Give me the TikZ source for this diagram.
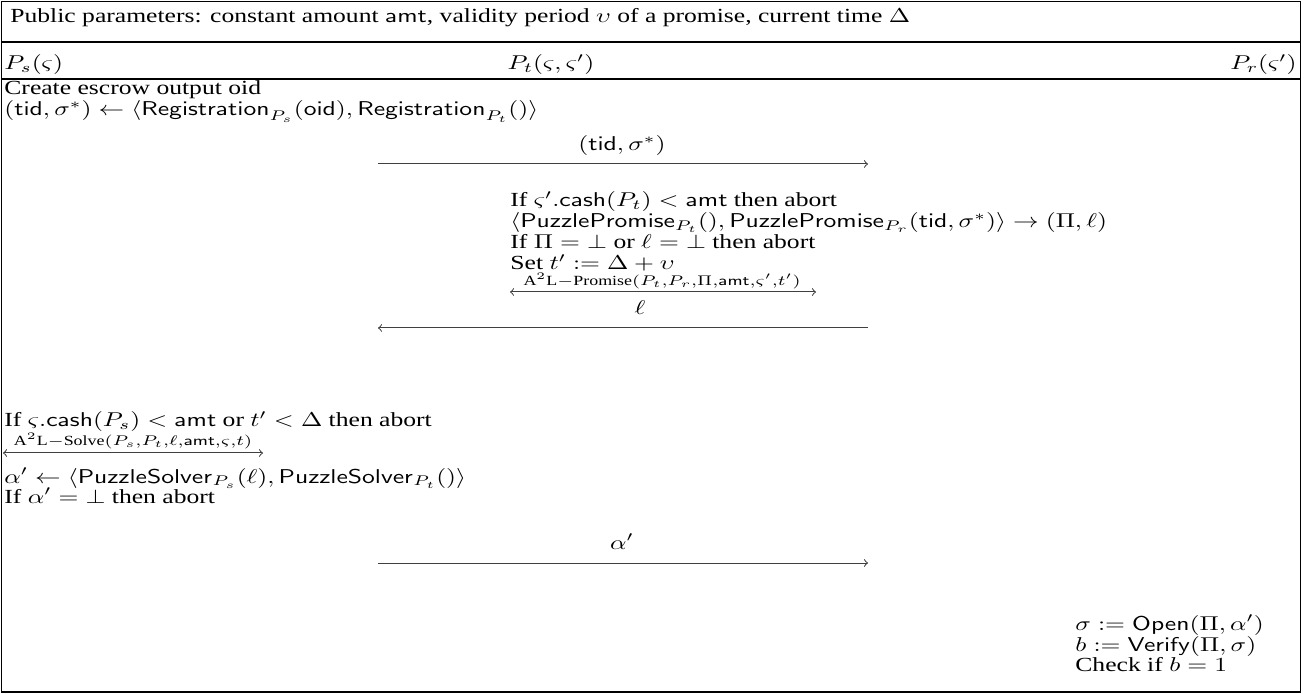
\documentclass[tikz,border=0pt]{standalone}
\usepackage{amsmath}
\usepackage[no-math]{fontspec}
\setmainfont{Liberation Serif}
\usepackage{graphicx}
\newcommand\hs[1]{\scalebox{1.28}[1]{#1}}
\tikzset{
  txt/.style={inner sep=0pt, anchor=base west},
  lbl/.style={inner sep=0pt, anchor=base},
  msg/.style={draw=black!75, line width=0.5pt, -to},
  dmsg/.style={draw=black!75, line width=0.5pt, to-to},
  rule/.style={draw=black, line width=0.6pt}
}
\begin{document}
\begin{tikzpicture}[x=0.5pt,y=-0.5pt]
\useasboundingbox (0,0) rectangle (1305,694);
\draw[rule] (1.5,1.5) rectangle (1300.5,692);
\node[txt] (hdr) at (10,23) {\hs{Public parameters: constant amount $\mathsf{amt}$, validity period $\upsilon$ of a promise, current time $\Delta$}};
\draw[rule] (1.5,42) -- (1300.5,42);
\node[txt] (ps) at (4,70) {\hs{$P_s(\varsigma)$}};
\node[lbl] (pt) at (551,70) {\hs{$P_t(\varsigma,\varsigma')$}};
\node[txt, anchor=base east] (pr) at (1297,70) {\hs{$P_r(\varsigma')$}};
\draw[rule] (1.5,79) -- (1300.5,79);
% sender block 1
\node[txt] (s1) at (4,95) {\hs{Create escrow output oid}};
\node[txt] (s2) at (4,116) {\hs{$(\mathsf{tid},\sigma^*)\leftarrow\langle\mathsf{Registration}_{P_s}(\mathsf{oid}),\mathsf{Registration}_{P_t}()\rangle$}};
% message 1
\coordinate (m1s) at (378,164);
\coordinate (m1e) at (868,164);
\node[lbl] (m1l) at (622,151) {\hs{$(\mathsf{tid},\sigma^*)$}};
\draw[msg] (m1s) -- (m1e);
% tumbler block
\node[txt] (t1) at (510,207) {\hs{If $\varsigma'.\mathsf{cash}(P_t)<\mathsf{amt}$ then abort}};
\node[txt] (t2) at (510,228) {\hs{$\langle\mathsf{PuzzlePromise}_{P_t}(),\mathsf{PuzzlePromise}_{P_r}(\mathsf{tid},\sigma^*)\rangle\rightarrow(\Pi,\ell)$}};
\node[txt] (t3) at (510,249) {\hs{If $\Pi=\bot$ or $\ell=\bot$ then abort}};
\node[txt] (t4) at (510,270) {\hs{Set $t':=\Delta+\upsilon$}};
\coordinate (d1s) at (510,292);
\coordinate (d1e) at (816,292);
\node[lbl] (d1l) at (662,286) {\hs{$\scriptstyle\text{A}^2\text{L}-\text{Promise}(P_t,P_r,\Pi,\mathsf{amt},\varsigma',t')$}};
\draw[dmsg] (d1s) -- (d1e);
\node[lbl] (m2l) at (640,315) {\hs{$\ell$}};
\coordinate (m2s) at (868,328);
\coordinate (m2e) at (378,328);
\draw[msg] (m2s) -- (m2e);
% sender block 2
\node[txt] (s3) at (4,427) {\hs{If $\varsigma.\mathsf{cash}(P_s)<\mathsf{amt}$ or $t'<\Delta$ then abort}};
\coordinate (d2s) at (3,453);
\coordinate (d2e) at (263,453);
\node[lbl] (d2l) at (133,446) {\hs{$\scriptstyle\text{A}^2\text{L}-\text{Solve}(P_s,P_t,\ell,\mathsf{amt},\varsigma,t)$}};
\draw[dmsg] (d2s) -- (d2e);
\node[txt] (s4) at (4,483) {\hs{$\alpha'\leftarrow\langle\mathsf{PuzzleSolver}_{P_s}(\ell),\mathsf{PuzzleSolver}_{P_t}()\rangle$}};
\node[txt] (s5) at (4,503) {\hs{If $\alpha'=\bot$ then abort}};
% message 3
\coordinate (m3s) at (378,563);
\coordinate (m3e) at (868,563);
\node[lbl] (m3l) at (622,549) {\hs{$\alpha'$}};
\draw[msg] (m3s) -- (m3e);
% receiver block
\node[txt] (r1) at (1075,630) {\hs{$\sigma:=\mathsf{Open}(\Pi,\alpha')$}};
\node[txt] (r2) at (1075,651) {\hs{$b:=\mathsf{Verify}(\Pi,\sigma)$}};
\node[txt] (r3) at (1075,671) {\hs{Check if $b=1$}};
\end{tikzpicture}
\end{document}
